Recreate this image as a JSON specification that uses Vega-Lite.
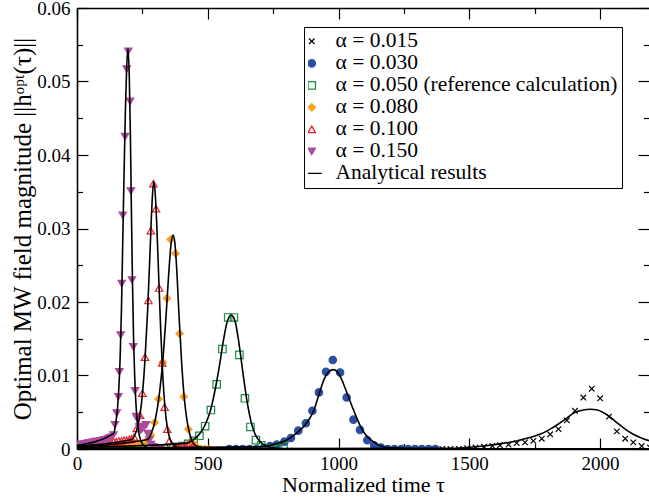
{
  "$schema": "https://vega.github.io/schema/vega-lite/v6.json",
  "width": 572,
  "height": 441,
  "autosize": {"type": "none"},
  "padding": {"left": 77, "top": 8, "right": 0, "bottom": 51},
  "background": "white",
  "config": {
    "view": {"stroke": null},
    "font": "Liberation Serif",
    "axis": {"grid": false, "tickColor": "#000", "domainColor": "#000", "domainWidth": 1.6, "tickWidth": 1.2, "labelColor": "#000", "titleColor": "#000", "labelFont": "Liberation Serif", "titleFont": "Liberation Serif", "titleFontWeight": "normal"},
    "legend": {
      "orient": "none", "legendX": 227, "legendY": 19, "title": null,
      "strokeColor": "#000", "fillColor": "white", "padding": 4,
      "labelFont": "Liberation Serif", "labelFontSize": 21.5, "labelColor": "#000", "labelLimit": 0,
      "labelOffset": 13, "symbolOffset": -7, "rowPadding": 0, "clipHeight": 20.7, "symbolStrokeWidth": 1.3, "symbolSize": 55
    }
  },
  "datasets": {
    "pa": [
      {"s": "α = 0.015", "t": 1365, "h": 0}, {"s": "α = 0.015", "t": 1397, "h": 0}, {"s": "α = 0.015", "t": 1428, "h": 0}, {"s": "α = 0.015", "t": 1460, "h": 0},
      {"s": "α = 0.015", "t": 1492, "h": 0.0001}, {"s": "α = 0.015", "t": 1524, "h": 0.0002}, {"s": "α = 0.015", "t": 1556, "h": 0.0003}, {"s": "α = 0.015", "t": 1588, "h": 0.0004},
      {"s": "α = 0.015", "t": 1617, "h": 0.0005}, {"s": "α = 0.015", "t": 1650, "h": 0.0006}, {"s": "α = 0.015", "t": 1681, "h": 0.0008}, {"s": "α = 0.015", "t": 1713, "h": 0.0009},
      {"s": "α = 0.015", "t": 1745, "h": 0.0011}, {"s": "α = 0.015", "t": 1777, "h": 0.0014}, {"s": "α = 0.015", "t": 1809, "h": 0.002}, {"s": "α = 0.015", "t": 1841, "h": 0.0027},
      {"s": "α = 0.015", "t": 1873, "h": 0.0039}, {"s": "α = 0.015", "t": 1904, "h": 0.0052}, {"s": "α = 0.015", "t": 1936, "h": 0.007}, {"s": "α = 0.015", "t": 1968, "h": 0.0082},
      {"s": "α = 0.015", "t": 2000, "h": 0.0069}, {"s": "α = 0.015", "t": 2034, "h": 0.0044}, {"s": "α = 0.015", "t": 2064, "h": 0.0024}, {"s": "α = 0.015", "t": 2096, "h": 0.0014},
      {"s": "α = 0.015", "t": 2127, "h": 0.0009}, {"s": "α = 0.015", "t": 2159, "h": 0.0004}, {"s": "α = 0.015", "t": 2191, "h": 0.0002},
      {"s": "α = 0.030", "t": 582, "h": 0}, {"s": "α = 0.030", "t": 608, "h": 0}, {"s": "α = 0.030", "t": 634, "h": 0}, {"s": "α = 0.030", "t": 660, "h": 0},
      {"s": "α = 0.030", "t": 686, "h": 0}, {"s": "α = 0.030", "t": 712, "h": 0.0001}, {"s": "α = 0.030", "t": 738, "h": 0.0004}, {"s": "α = 0.030", "t": 764, "h": 0.0006},
      {"s": "α = 0.030", "t": 793, "h": 0.001}, {"s": "α = 0.030", "t": 818, "h": 0.0015}, {"s": "α = 0.030", "t": 846, "h": 0.0025}, {"s": "α = 0.030", "t": 875, "h": 0.0035},
      {"s": "α = 0.030", "t": 900, "h": 0.0052}, {"s": "α = 0.030", "t": 925, "h": 0.0077}, {"s": "α = 0.030", "t": 952, "h": 0.0105}, {"s": "α = 0.030", "t": 978, "h": 0.0121},
      {"s": "α = 0.030", "t": 1006, "h": 0.0104}, {"s": "α = 0.030", "t": 1031, "h": 0.007}, {"s": "α = 0.030", "t": 1057, "h": 0.004}, {"s": "α = 0.030", "t": 1082, "h": 0.0026},
      {"s": "α = 0.030", "t": 1110, "h": 0.0012}, {"s": "α = 0.030", "t": 1136, "h": 0.0005}, {"s": "α = 0.030", "t": 1162, "h": 0.0002}, {"s": "α = 0.030", "t": 1188, "h": 0},
      {"s": "α = 0.030", "t": 1214, "h": 0}, {"s": "α = 0.030", "t": 1240, "h": 0}, {"s": "α = 0.030", "t": 1266, "h": 0}, {"s": "α = 0.030", "t": 1292, "h": 0},
      {"s": "α = 0.030", "t": 1318, "h": 0}, {"s": "α = 0.030", "t": 1344, "h": 0}, {"s": "α = 0.030", "t": 1370, "h": 0},
      {"s": "α = 0.050 (reference calculation)", "t": 102, "h": 0}, {"s": "α = 0.050 (reference calculation)", "t": 124, "h": 0}, {"s": "α = 0.050 (reference calculation)", "t": 145, "h": 0},
      {"s": "α = 0.050 (reference calculation)", "t": 167, "h": 0}, {"s": "α = 0.050 (reference calculation)", "t": 188, "h": 0}, {"s": "α = 0.050 (reference calculation)", "t": 210, "h": 0},
      {"s": "α = 0.050 (reference calculation)", "t": 231, "h": 0}, {"s": "α = 0.050 (reference calculation)", "t": 253, "h": 0}, {"s": "α = 0.050 (reference calculation)", "t": 274, "h": 0},
      {"s": "α = 0.050 (reference calculation)", "t": 296, "h": 0}, {"s": "α = 0.050 (reference calculation)", "t": 317, "h": 0.0001}, {"s": "α = 0.050 (reference calculation)", "t": 339, "h": 0.0001},
      {"s": "α = 0.050 (reference calculation)", "t": 360, "h": 0.0002}, {"s": "α = 0.050 (reference calculation)", "t": 382, "h": 0.0003}, {"s": "α = 0.050 (reference calculation)", "t": 403, "h": 0.0004},
      {"s": "α = 0.050 (reference calculation)", "t": 425, "h": 0.0007}, {"s": "α = 0.050 (reference calculation)", "t": 446, "h": 0.0011}, {"s": "α = 0.050 (reference calculation)", "t": 468, "h": 0.0018},
      {"s": "α = 0.050 (reference calculation)", "t": 490, "h": 0.0031}, {"s": "α = 0.050 (reference calculation)", "t": 512, "h": 0.0053}, {"s": "α = 0.050 (reference calculation)", "t": 534, "h": 0.0088},
      {"s": "α = 0.050 (reference calculation)", "t": 556, "h": 0.0136}, {"s": "α = 0.050 (reference calculation)", "t": 578, "h": 0.0179}, {"s": "α = 0.050 (reference calculation)", "t": 600, "h": 0.0179},
      {"s": "α = 0.050 (reference calculation)", "t": 621, "h": 0.0128}, {"s": "α = 0.050 (reference calculation)", "t": 642, "h": 0.0069}, {"s": "α = 0.050 (reference calculation)", "t": 663, "h": 0.003},
      {"s": "α = 0.050 (reference calculation)", "t": 684, "h": 0.0012}, {"s": "α = 0.050 (reference calculation)", "t": 705, "h": 0.0005}, {"s": "α = 0.050 (reference calculation)", "t": 726, "h": 0.0001},
      {"s": "α = 0.050 (reference calculation)", "t": 748, "h": 0}, {"s": "α = 0.050 (reference calculation)", "t": 769, "h": 0.0001}, {"s": "α = 0.050 (reference calculation)", "t": 790, "h": 0.0004}
    ],
    "pb": [
      {"s": "α = 0.080", "t": 90, "h": 0}, {"s": "α = 0.080", "t": 106, "h": 0}, {"s": "α = 0.080", "t": 122, "h": 0}, {"s": "α = 0.080", "t": 138, "h": 0.0001},
      {"s": "α = 0.080", "t": 154, "h": 0.0001}, {"s": "α = 0.080", "t": 170, "h": 0.0002}, {"s": "α = 0.080", "t": 186, "h": 0.0002}, {"s": "α = 0.080", "t": 202, "h": 0.0003},
      {"s": "α = 0.080", "t": 218, "h": 0.0004}, {"s": "α = 0.080", "t": 234, "h": 0.0005}, {"s": "α = 0.080", "t": 250, "h": 0.0007}, {"s": "α = 0.080", "t": 266, "h": 0.0011},
      {"s": "α = 0.080", "t": 282, "h": 0.0019}, {"s": "α = 0.080", "t": 297, "h": 0.0036}, {"s": "α = 0.080", "t": 312, "h": 0.0068}, {"s": "α = 0.080", "t": 328, "h": 0.0118},
      {"s": "α = 0.080", "t": 344, "h": 0.0205}, {"s": "α = 0.080", "t": 358, "h": 0.0285}, {"s": "α = 0.080", "t": 377, "h": 0.0266}, {"s": "α = 0.080", "t": 392, "h": 0.0157},
      {"s": "α = 0.080", "t": 408, "h": 0.0071}, {"s": "α = 0.080", "t": 426, "h": 0.0027}, {"s": "α = 0.080", "t": 442, "h": 0.0009}, {"s": "α = 0.080", "t": 458, "h": 0.0003},
      {"s": "α = 0.080", "t": 474, "h": 0}, {"s": "α = 0.080", "t": 490, "h": 0}, {"s": "α = 0.080", "t": 506, "h": 0},
      {"s": "α = 0.100", "t": 0, "h": 0.0004}, {"s": "α = 0.100", "t": 10, "h": 0.0004}, {"s": "α = 0.100", "t": 20, "h": 0.0005}, {"s": "α = 0.100", "t": 30, "h": 0.0005},
      {"s": "α = 0.100", "t": 40, "h": 0.0005}, {"s": "α = 0.100", "t": 50, "h": 0.0006}, {"s": "α = 0.100", "t": 60, "h": 0.0006}, {"s": "α = 0.100", "t": 70, "h": 0.0007},
      {"s": "α = 0.100", "t": 80, "h": 0.0007}, {"s": "α = 0.100", "t": 90, "h": 0.0008}, {"s": "α = 0.100", "t": 100, "h": 0.0008}, {"s": "α = 0.100", "t": 110, "h": 0.0008},
      {"s": "α = 0.100", "t": 120, "h": 0.0009}, {"s": "α = 0.100", "t": 130, "h": 0.0009}, {"s": "α = 0.100", "t": 140, "h": 0.001}, {"s": "α = 0.100", "t": 150, "h": 0.001},
      {"s": "α = 0.100", "t": 160, "h": 0.0011}, {"s": "α = 0.100", "t": 170, "h": 0.0011}, {"s": "α = 0.100", "t": 180, "h": 0.0012}, {"s": "α = 0.100", "t": 190, "h": 0.0012},
      {"s": "α = 0.100", "t": 200, "h": 0.0013}, {"s": "α = 0.100", "t": 209, "h": 0.0014}, {"s": "α = 0.100", "t": 218, "h": 0.0016}, {"s": "α = 0.100", "t": 228, "h": 0.0028},
      {"s": "α = 0.100", "t": 241, "h": 0.0046}, {"s": "α = 0.100", "t": 250, "h": 0.0076}, {"s": "α = 0.100", "t": 260, "h": 0.0125}, {"s": "α = 0.100", "t": 273, "h": 0.0202},
      {"s": "α = 0.100", "t": 282, "h": 0.0297}, {"s": "α = 0.100", "t": 292, "h": 0.0361}, {"s": "α = 0.100", "t": 302, "h": 0.0327}, {"s": "α = 0.100", "t": 314, "h": 0.0219},
      {"s": "α = 0.100", "t": 326, "h": 0.0117}, {"s": "α = 0.100", "t": 335, "h": 0.0057}, {"s": "α = 0.100", "t": 345, "h": 0.0027}, {"s": "α = 0.100", "t": 353, "h": 0.0011},
      {"s": "α = 0.100", "t": 363, "h": 0.0005}, {"s": "α = 0.100", "t": 373, "h": 0.0003}, {"s": "α = 0.100", "t": 383, "h": 0.0002}, {"s": "α = 0.100", "t": 393, "h": 0.0002},
      {"s": "α = 0.100", "t": 403, "h": 0.0003}, {"s": "α = 0.100", "t": 413, "h": 0.0004}, {"s": "α = 0.100", "t": 423, "h": 0.0006}, {"s": "α = 0.100", "t": 433, "h": 0.0008},
      {"s": "α = 0.100", "t": 443, "h": 0.0004},
      {"s": "α = 0.150", "t": 0, "h": 0.0005}, {"s": "α = 0.150", "t": 6, "h": 0.0005}, {"s": "α = 0.150", "t": 12, "h": 0.0006}, {"s": "α = 0.150", "t": 18, "h": 0.0006},
      {"s": "α = 0.150", "t": 24, "h": 0.0006}, {"s": "α = 0.150", "t": 30, "h": 0.0007}, {"s": "α = 0.150", "t": 36, "h": 0.0007}, {"s": "α = 0.150", "t": 42, "h": 0.0008},
      {"s": "α = 0.150", "t": 48, "h": 0.0008}, {"s": "α = 0.150", "t": 54, "h": 0.0008}, {"s": "α = 0.150", "t": 60, "h": 0.0009}, {"s": "α = 0.150", "t": 66, "h": 0.0009},
      {"s": "α = 0.150", "t": 72, "h": 0.001}, {"s": "α = 0.150", "t": 78, "h": 0.001}, {"s": "α = 0.150", "t": 84, "h": 0.001}, {"s": "α = 0.150", "t": 90, "h": 0.0011},
      {"s": "α = 0.150", "t": 96, "h": 0.0011}, {"s": "α = 0.150", "t": 102, "h": 0.0012}, {"s": "α = 0.150", "t": 108, "h": 0.0012}, {"s": "α = 0.150", "t": 114, "h": 0.0013},
      {"s": "α = 0.150", "t": 120, "h": 0.0014}, {"s": "α = 0.150", "t": 126, "h": 0.0015}, {"s": "α = 0.150", "t": 132, "h": 0.0016}, {"s": "α = 0.150", "t": 139, "h": 0.0019},
      {"s": "α = 0.150", "t": 145, "h": 0.0033}, {"s": "α = 0.150", "t": 152, "h": 0.0049}, {"s": "α = 0.150", "t": 158, "h": 0.0071}, {"s": "α = 0.150", "t": 162, "h": 0.0105},
      {"s": "α = 0.150", "t": 167, "h": 0.0155}, {"s": "α = 0.150", "t": 171, "h": 0.0225}, {"s": "α = 0.150", "t": 175, "h": 0.0318}, {"s": "α = 0.150", "t": 184, "h": 0.0425},
      {"s": "α = 0.150", "t": 190, "h": 0.0517}, {"s": "α = 0.150", "t": 196, "h": 0.0541}, {"s": "α = 0.150", "t": 203, "h": 0.0473}, {"s": "α = 0.150", "t": 206, "h": 0.0351},
      {"s": "α = 0.150", "t": 210, "h": 0.023}, {"s": "α = 0.150", "t": 215, "h": 0.0139}, {"s": "α = 0.150", "t": 222, "h": 0.0079}, {"s": "α = 0.150", "t": 226, "h": 0.0044},
      {"s": "α = 0.150", "t": 232, "h": 0.004}, {"s": "α = 0.150", "t": 238, "h": 0.003}, {"s": "α = 0.150", "t": 244, "h": 0.0026}, {"s": "α = 0.150", "t": 250, "h": 0.0028},
      {"s": "α = 0.150", "t": 257, "h": 0.0031}, {"s": "α = 0.150", "t": 264, "h": 0.0033}, {"s": "α = 0.150", "t": 270, "h": 0.0021}, {"s": "α = 0.150", "t": 277, "h": 0.0012},
      {"s": "α = 0.150", "t": 283, "h": 0.0006}, {"s": "α = 0.150", "t": 290, "h": 0.0003}, {"s": "α = 0.150", "t": 296, "h": 0.0002}, {"s": "α = 0.150", "t": 302, "h": 0.0001},
      {"s": "α = 0.150", "t": 308, "h": 0}, {"s": "α = 0.150", "t": 314, "h": 0}
    ],
    "la": [
      {"s": "Analytical results", "c": "0.015", "t": 0, "h": 0}, {"s": "Analytical results", "c": "0.015", "t": 1300, "h": 0.0001}, {"s": "Analytical results", "c": "0.015", "t": 1450, "h": 0.0001},
      {"s": "Analytical results", "c": "0.015", "t": 1492, "h": 0.0002}, {"s": "Analytical results", "c": "0.015", "t": 1556, "h": 0.0004}, {"s": "Analytical results", "c": "0.015", "t": 1617, "h": 0.0007},
      {"s": "Analytical results", "c": "0.015", "t": 1681, "h": 0.0011}, {"s": "Analytical results", "c": "0.015", "t": 1713, "h": 0.0014}, {"s": "Analytical results", "c": "0.015", "t": 1745, "h": 0.0017},
      {"s": "Analytical results", "c": "0.015", "t": 1777, "h": 0.0021}, {"s": "Analytical results", "c": "0.015", "t": 1809, "h": 0.0027}, {"s": "Analytical results", "c": "0.015", "t": 1841, "h": 0.0034},
      {"s": "Analytical results", "c": "0.015", "t": 1873, "h": 0.0042}, {"s": "Analytical results", "c": "0.015", "t": 1904, "h": 0.005}, {"s": "Analytical results", "c": "0.015", "t": 1935, "h": 0.0053},
      {"s": "Analytical results", "c": "0.015", "t": 1962, "h": 0.0054}, {"s": "Analytical results", "c": "0.015", "t": 1990, "h": 0.0053}, {"s": "Analytical results", "c": "0.015", "t": 2015, "h": 0.0049},
      {"s": "Analytical results", "c": "0.015", "t": 2040, "h": 0.0043}, {"s": "Analytical results", "c": "0.015", "t": 2064, "h": 0.0036}, {"s": "Analytical results", "c": "0.015", "t": 2096, "h": 0.0027},
      {"s": "Analytical results", "c": "0.015", "t": 2127, "h": 0.002}, {"s": "Analytical results", "c": "0.015", "t": 2165, "h": 0.0014}, {"s": "Analytical results", "c": "0.015", "t": 2200, "h": 0.001},
      {"s": "Analytical results", "c": "0.030", "t": 0, "h": 0.0001}, {"s": "Analytical results", "c": "0.030", "t": 700, "h": 0.0003}, {"s": "Analytical results", "c": "0.030", "t": 750, "h": 0.0006},
      {"s": "Analytical results", "c": "0.030", "t": 800, "h": 0.0012}, {"s": "Analytical results", "c": "0.030", "t": 830, "h": 0.0019}, {"s": "Analytical results", "c": "0.030", "t": 860, "h": 0.0028},
      {"s": "Analytical results", "c": "0.030", "t": 885, "h": 0.0039}, {"s": "Analytical results", "c": "0.030", "t": 905, "h": 0.0052}, {"s": "Analytical results", "c": "0.030", "t": 925, "h": 0.0074},
      {"s": "Analytical results", "c": "0.030", "t": 945, "h": 0.0095}, {"s": "Analytical results", "c": "0.030", "t": 962, "h": 0.0105}, {"s": "Analytical results", "c": "0.030", "t": 980, "h": 0.0108},
      {"s": "Analytical results", "c": "0.030", "t": 995, "h": 0.0105}, {"s": "Analytical results", "c": "0.030", "t": 1010, "h": 0.0096}, {"s": "Analytical results", "c": "0.030", "t": 1025, "h": 0.0083},
      {"s": "Analytical results", "c": "0.030", "t": 1040, "h": 0.0069}, {"s": "Analytical results", "c": "0.030", "t": 1055, "h": 0.0055}, {"s": "Analytical results", "c": "0.030", "t": 1070, "h": 0.0042},
      {"s": "Analytical results", "c": "0.030", "t": 1085, "h": 0.003}, {"s": "Analytical results", "c": "0.030", "t": 1100, "h": 0.0021}, {"s": "Analytical results", "c": "0.030", "t": 1125, "h": 0.0012},
      {"s": "Analytical results", "c": "0.030", "t": 1150, "h": 0.0006}, {"s": "Analytical results", "c": "0.030", "t": 1185, "h": 0.0002}, {"s": "Analytical results", "c": "0.030", "t": 1250, "h": 0.0001},
      {"s": "Analytical results", "c": "0.030", "t": 1300, "h": 0}, {"s": "Analytical results", "c": "0.030", "t": 2200, "h": 0},
      {"s": "Analytical results", "c": "0.050", "t": 0, "h": 0.0002}, {"s": "Analytical results", "c": "0.050", "t": 420, "h": 0.0008}, {"s": "Analytical results", "c": "0.050", "t": 450, "h": 0.0014},
      {"s": "Analytical results", "c": "0.050", "t": 470, "h": 0.0021}, {"s": "Analytical results", "c": "0.050", "t": 490, "h": 0.0033}, {"s": "Analytical results", "c": "0.050", "t": 510, "h": 0.0052},
      {"s": "Analytical results", "c": "0.050", "t": 530, "h": 0.0084}, {"s": "Analytical results", "c": "0.050", "t": 545, "h": 0.0114}, {"s": "Analytical results", "c": "0.050", "t": 560, "h": 0.0148},
      {"s": "Analytical results", "c": "0.050", "t": 575, "h": 0.0174}, {"s": "Analytical results", "c": "0.050", "t": 590, "h": 0.0182}, {"s": "Analytical results", "c": "0.050", "t": 605, "h": 0.0173},
      {"s": "Analytical results", "c": "0.050", "t": 620, "h": 0.0142}, {"s": "Analytical results", "c": "0.050", "t": 635, "h": 0.0102}, {"s": "Analytical results", "c": "0.050", "t": 650, "h": 0.0065},
      {"s": "Analytical results", "c": "0.050", "t": 665, "h": 0.0038}, {"s": "Analytical results", "c": "0.050", "t": 680, "h": 0.0021}, {"s": "Analytical results", "c": "0.050", "t": 700, "h": 0.001},
      {"s": "Analytical results", "c": "0.050", "t": 725, "h": 0.0004}, {"s": "Analytical results", "c": "0.050", "t": 760, "h": 0.0001}, {"s": "Analytical results", "c": "0.050", "t": 800, "h": 0},
      {"s": "Analytical results", "c": "0.050", "t": 2200, "h": 0}
    ],
    "lb": [
      {"s": "Analytical results", "c": "0.080", "t": 0, "h": 0.0003}, {"s": "Analytical results", "c": "0.080", "t": 270, "h": 0.0013}, {"s": "Analytical results", "c": "0.080", "t": 285, "h": 0.0022},
      {"s": "Analytical results", "c": "0.080", "t": 300, "h": 0.0041}, {"s": "Analytical results", "c": "0.080", "t": 315, "h": 0.0075}, {"s": "Analytical results", "c": "0.080", "t": 330, "h": 0.0128},
      {"s": "Analytical results", "c": "0.080", "t": 340, "h": 0.0178}, {"s": "Analytical results", "c": "0.080", "t": 350, "h": 0.0235}, {"s": "Analytical results", "c": "0.080", "t": 360, "h": 0.028},
      {"s": "Analytical results", "c": "0.080", "t": 367, "h": 0.0291}, {"s": "Analytical results", "c": "0.080", "t": 374, "h": 0.0281}, {"s": "Analytical results", "c": "0.080", "t": 382, "h": 0.024},
      {"s": "Analytical results", "c": "0.080", "t": 390, "h": 0.0182}, {"s": "Analytical results", "c": "0.080", "t": 400, "h": 0.0118}, {"s": "Analytical results", "c": "0.080", "t": 410, "h": 0.007},
      {"s": "Analytical results", "c": "0.080", "t": 420, "h": 0.004}, {"s": "Analytical results", "c": "0.080", "t": 432, "h": 0.0019}, {"s": "Analytical results", "c": "0.080", "t": 445, "h": 0.0008},
      {"s": "Analytical results", "c": "0.080", "t": 465, "h": 0.0003}, {"s": "Analytical results", "c": "0.080", "t": 500, "h": 0.0001}, {"s": "Analytical results", "c": "0.080", "t": 550, "h": 0},
      {"s": "Analytical results", "c": "0.080", "t": 2200, "h": 0},
      {"s": "Analytical results", "c": "0.100", "t": 0, "h": 0.0004}, {"s": "Analytical results", "c": "0.100", "t": 210, "h": 0.0013}, {"s": "Analytical results", "c": "0.100", "t": 220, "h": 0.0018},
      {"s": "Analytical results", "c": "0.100", "t": 230, "h": 0.0028}, {"s": "Analytical results", "c": "0.100", "t": 240, "h": 0.0045}, {"s": "Analytical results", "c": "0.100", "t": 250, "h": 0.0074},
      {"s": "Analytical results", "c": "0.100", "t": 260, "h": 0.0122}, {"s": "Analytical results", "c": "0.100", "t": 270, "h": 0.0188}, {"s": "Analytical results", "c": "0.100", "t": 280, "h": 0.0275},
      {"s": "Analytical results", "c": "0.100", "t": 287, "h": 0.0335}, {"s": "Analytical results", "c": "0.100", "t": 293, "h": 0.0364}, {"s": "Analytical results", "c": "0.100", "t": 299, "h": 0.0348},
      {"s": "Analytical results", "c": "0.100", "t": 305, "h": 0.0305}, {"s": "Analytical results", "c": "0.100", "t": 312, "h": 0.0238}, {"s": "Analytical results", "c": "0.100", "t": 320, "h": 0.0162},
      {"s": "Analytical results", "c": "0.100", "t": 328, "h": 0.01}, {"s": "Analytical results", "c": "0.100", "t": 336, "h": 0.0058}, {"s": "Analytical results", "c": "0.100", "t": 345, "h": 0.003},
      {"s": "Analytical results", "c": "0.100", "t": 355, "h": 0.0014}, {"s": "Analytical results", "c": "0.100", "t": 370, "h": 0.0005}, {"s": "Analytical results", "c": "0.100", "t": 400, "h": 0.0001},
      {"s": "Analytical results", "c": "0.100", "t": 450, "h": 0}, {"s": "Analytical results", "c": "0.100", "t": 2200, "h": 0},
      {"s": "Analytical results", "c": "0.150", "t": 0, "h": 0.0005}, {"s": "Analytical results", "c": "0.150", "t": 140, "h": 0.0021}, {"s": "Analytical results", "c": "0.150", "t": 148, "h": 0.0035},
      {"s": "Analytical results", "c": "0.150", "t": 155, "h": 0.0056}, {"s": "Analytical results", "c": "0.150", "t": 160, "h": 0.0083}, {"s": "Analytical results", "c": "0.150", "t": 165, "h": 0.0125},
      {"s": "Analytical results", "c": "0.150", "t": 170, "h": 0.019}, {"s": "Analytical results", "c": "0.150", "t": 175, "h": 0.0285}, {"s": "Analytical results", "c": "0.150", "t": 180, "h": 0.0375},
      {"s": "Analytical results", "c": "0.150", "t": 185, "h": 0.046}, {"s": "Analytical results", "c": "0.150", "t": 190, "h": 0.052}, {"s": "Analytical results", "c": "0.150", "t": 195, "h": 0.0545},
      {"s": "Analytical results", "c": "0.150", "t": 200, "h": 0.0505}, {"s": "Analytical results", "c": "0.150", "t": 204, "h": 0.043}, {"s": "Analytical results", "c": "0.150", "t": 208, "h": 0.0325},
      {"s": "Analytical results", "c": "0.150", "t": 212, "h": 0.023}, {"s": "Analytical results", "c": "0.150", "t": 216, "h": 0.0155}, {"s": "Analytical results", "c": "0.150", "t": 220, "h": 0.0105},
      {"s": "Analytical results", "c": "0.150", "t": 225, "h": 0.0064}, {"s": "Analytical results", "c": "0.150", "t": 230, "h": 0.0039}, {"s": "Analytical results", "c": "0.150", "t": 238, "h": 0.0019},
      {"s": "Analytical results", "c": "0.150", "t": 250, "h": 0.0007}, {"s": "Analytical results", "c": "0.150", "t": 270, "h": 0.0002}, {"s": "Analytical results", "c": "0.150", "t": 300, "h": 0.0001},
      {"s": "Analytical results", "c": "0.150", "t": 400, "h": 0}, {"s": "Analytical results", "c": "0.150", "t": 2200, "h": 0}
    ]
  },
  "resolve": {"axis": {"x": "independent", "y": "independent"}},
  "layer": [
    {
      "data": {"name": "pa"},
      "mark": {"type": "point", "size": 55, "strokeWidth": 1.2, "opacity": 1, "clip": true},
      "encoding": {
        "x": {"field": "t", "type": "quantitative", "scale": {"domain": [0, 2187], "nice": false, "zero": false},
          "axis": {"orient": "bottom", "values": [0, 500, 1000, 1500, 2000], "tickSize": -11, "labelPadding": 16, "labelFontSize": 19, "format": "d", "labelFlush": false, "labelOverlap": false, "domain": true, "title": "Normalized time τ", "titleFontSize": 22, "titlePadding": 1}},
        "y": {"field": "h", "type": "quantitative", "scale": {"domain": [0, 0.06], "nice": false, "zero": true},
          "axis": {"orient": "left", "values": [0, 0.01, 0.02, 0.03, 0.04, 0.05, 0.06], "tickSize": -11, "labelPadding": 18, "labelFontSize": 19, "format": ".2~f", "labelFlush": false, "labelOverlap": false, "domain": true, "title": "Optimal MW field magnitude ||hᵒᵖᵗ(τ)||", "titleFontSize": 25, "titlePadding": 1}},
        "stroke": {"field": "s", "type": "nominal", "scale": {"domain": ["α = 0.015", "α = 0.030", "α = 0.050 (reference calculation)", "α = 0.080", "α = 0.100", "α = 0.150", "Analytical results"], "range": ["#000000", "#2c4fa3", "#1b8a45", "#f5a31c", "#e8212b", "#ad4a9c", "#000000"]}},
        "fill": {"field": "s", "type": "nominal", "scale": {"domain": ["α = 0.015", "α = 0.030", "α = 0.050 (reference calculation)", "α = 0.080", "α = 0.100", "α = 0.150", "Analytical results"], "range": ["transparent", "#2c4fa3", "transparent", "#f5a31c", "transparent", "#ad4a9c", "transparent"]}},
        "shape": {"field": "s", "type": "nominal", "scale": {"domain": ["α = 0.015", "α = 0.030", "α = 0.050 (reference calculation)", "α = 0.080", "α = 0.100", "α = 0.150", "Analytical results"], "range": ["M-0.75,-0.75L0.75,0.75M-0.75,0.75L0.75,-0.75", "circle", "square", "diamond", "triangle-up", "triangle-down", "M-2.7,0L2.7,0"]}}
      }
    },
    {
      "data": {"name": "pb"},
      "mark": {"type": "point", "size": 55, "strokeWidth": 1.2, "opacity": 1, "clip": true},
      "encoding": {
        "x": {"field": "t", "type": "quantitative", "axis": {"orient": "top", "values": [0, 500, 1000, 1500, 2000], "tickSize": -11, "labels": false, "domain": true, "title": null}},
        "y": {"field": "h", "type": "quantitative", "axis": {"orient": "right", "values": [0, 0.01, 0.02, 0.03, 0.04, 0.05, 0.06], "tickSize": -11, "labels": false, "domain": false, "title": null}},
        "stroke": {"field": "s", "type": "nominal"},
        "fill": {"field": "s", "type": "nominal"},
        "shape": {"field": "s", "type": "nominal"}
      }
    },
    {
      "data": {"name": "la"},
      "mark": {"type": "line", "strokeWidth": 1.6, "interpolate": "monotone", "clip": true},
      "encoding": {
        "x": {"field": "t", "type": "quantitative", "axis": {"orient": "bottom", "values": [250, 750, 1250, 1750], "tickSize": -5.5, "labels": false, "domain": false, "title": null}},
        "y": {"field": "h", "type": "quantitative", "axis": {"orient": "left", "values": [0.005, 0.015, 0.025, 0.035, 0.045, 0.055], "tickSize": -5.5, "labels": false, "domain": false, "title": null}},
        "stroke": {"field": "s", "type": "nominal"},
        "detail": {"field": "c"}
      }
    },
    {
      "data": {"name": "lb"},
      "mark": {"type": "line", "strokeWidth": 1.6, "interpolate": "monotone", "clip": true},
      "encoding": {
        "x": {"field": "t", "type": "quantitative", "axis": {"orient": "top", "values": [250, 750, 1250, 1750], "tickSize": -5.5, "labels": false, "domain": false, "title": null}},
        "y": {"field": "h", "type": "quantitative", "axis": {"orient": "right", "values": [0.005, 0.015, 0.025, 0.035, 0.045, 0.055], "tickSize": -5.5, "labels": false, "domain": false, "title": null}},
        "stroke": {"field": "s", "type": "nominal"},
        "detail": {"field": "c"}
      }
    }
  ]
}
